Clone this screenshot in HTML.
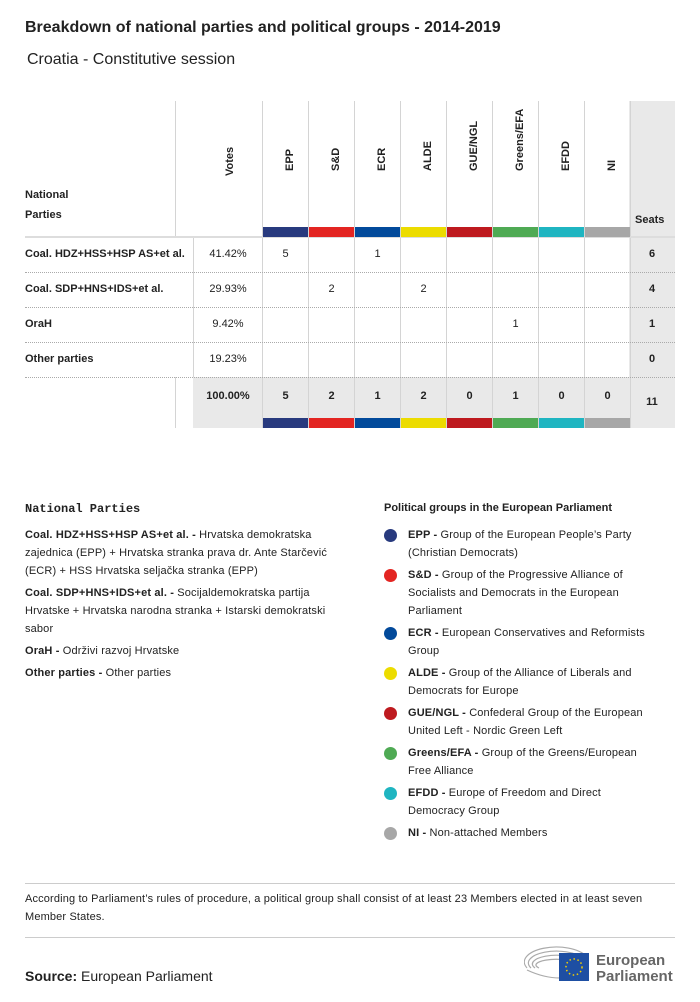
<!DOCTYPE html>
<html><head><meta charset="utf-8"><style>
*{margin:0;padding:0;box-sizing:border-box}
body{width:700px;height:1002px;background:#fff;font-family:"Liberation Sans",sans-serif;color:#222;position:relative;overflow:hidden}
.a{position:absolute;white-space:nowrap}
.vl{position:absolute;width:1px;background:#d4d4d4}
.hl{position:absolute;height:0;border-top:1px dotted #aaa}
.rot{position:absolute;transform:rotate(-90deg);transform-origin:left top;font-size:11px;font-weight:bold;white-space:nowrap}
.c{position:absolute;text-align:center;font-size:11px}
.leg{font-size:11px;line-height:18px;color:#222;letter-spacing:0.15px}
.leg b{font-weight:bold}
.dot{position:absolute;width:13px;height:13px;border-radius:50%}
</style></head><body>
<div class="a" style="left:25px;top:19px;font-size:16px;font-weight:bold">Breakdown of national parties and political groups - 2014-2019</div>
<div class="a" style="left:27px;top:51px;font-size:16px">Croatia - Constitutive session</div>
<div id="table"></div>
<div class="a" style="left:25px;top:502px;font-size:12px;font-weight:bold;font-family:'Liberation Mono',monospace">National Parties</div>
<div class="a leg" style="left:25px;top:526px;white-space:normal;width:322px">
<div><b>Coal. HDZ+HSS+HSP AS+et al. -</b> Hrvatska demokratska zajednica (EPP) + Hrvatska stranka prava dr. Ante Starčević (ECR) + HSS Hrvatska seljačka stranka (EPP)</div>
<div style="margin-top:4px"><b>Coal. SDP+HNS+IDS+et al. -</b> Socijaldemokratska partija Hrvatske + Hrvatska narodna stranka + Istarski demokratski sabor</div>
<div style="margin-top:4px"><b>OraH -</b> Održivi razvoj Hrvatske</div>
<div style="margin-top:4px"><b>Other parties -</b> Other parties</div>
</div>
<div class="a" style="left:384px;top:502px;font-size:11px;font-weight:bold">Political groups in the European Parliament</div>
<div id="glegend"></div>
<div class="a" style="left:25px;top:883px;width:650px;height:1px;background:#ccc"></div>
<div class="a leg" style="left:25px;top:890px;width:640px;white-space:normal">According to Parliament’s rules of procedure, a political group shall consist of at least 23 Members elected in at least seven Member States.</div>
<div class="a" style="left:25px;top:937px;width:650px;height:1px;background:#ccc"></div>
<div class="a" style="left:25px;top:968px;font-size:14px"><b>Source:</b> European Parliament</div>
<svg class="a" style="left:524px;top:944px" width="152" height="42">
<g fill="none" stroke="#aaa" stroke-width="1.2">
<path d="M3 24 A30 14 0 0 1 62 12"/><path d="M7 24 A26 11 0 0 1 58 14"/><path d="M11 24 A22 8 0 0 1 54 16"/><path d="M15 24 A18 5 0 0 1 50 18"/><path d="M3 26 Q20 34 36 34"/></g>
<rect x="35" y="9" width="30" height="28" fill="#1e4fa3"/>
<circle cx="50" cy="23" r="8" fill="none" stroke="#f5d000" stroke-width="1.5" stroke-dasharray="1.5 2.6"/>
<text x="72" y="21" font-size="15" fill="#666" font-family="Liberation Sans" font-weight="bold">European</text>
<text x="72" y="37" font-size="15" fill="#666" font-family="Liberation Sans" font-weight="bold">Parliament</text>
</svg>
<script>
const groups=["EPP","S&D","ECR","ALDE","GUE/NGL","Greens/EFA","EFDD","NI"];
const colors=["#283a7e","#e32522","#024a9b","#ecdc00","#be1a1f","#4faa54","#1fb5c1","#a7a7a7"];
const parties=["Coal. HDZ+HSS+HSP AS+et al.","Coal. SDP+HNS+IDS+et al.","OraH","Other parties"];
const votes=["41.42%","29.93%","9.42%","19.23%"];
const seatsByGroup=[[5,0,1,0,0,0,0,0],[0,2,0,2,0,0,0,0],[0,0,0,0,0,1,0,0],[0,0,0,0,0,0,0,0]];
const totalVotes="100.00%";
const groupDescs=["Group of the European People’s Party (Christian Democrats)","Group of the Progressive Alliance of Socialists and Democrats in the European Parliament","European Conservatives and Reformists Group","Group of the Alliance of Liberals and Democrats for Europe","Confederal Group of the European United Left - Nordic Green Left","Group of the Greens/European Free Alliance","Europe of Freedom and Direct Democracy Group","Non-attached Members"];

const T=document.getElementById('table');
function add(parent,html,style,name,cls){const d=document.createElement('div');d.className=cls||'a';d.style.cssText=style;d.innerHTML=html;


parent.appendChild(d);return d;}
const gx0=263,cw=46,tTop=101,hb=237,rh=35,seatX=629;
add(T,'','left:'+seatX+'px;top:'+tTop+'px;width:46px;height:327px;background:#e9e9e9','seats-column-bg');
add(T,'','left:193px;top:377px;width:436px;height:51px;background:#e9e9e9','total-row-bg');
add(T,'','left:175px;top:'+tTop+'px;height:136px','header-divider','vl');
add(T,'','left:175px;top:377px;height:51px','total-divider','vl');
add(T,'','left:193px;top:237px;height:140px','votes-divider','vl');
for(let i=0;i<=groups.length;i++){add(T,'','left:'+(gx0+i*cw-1)+'px;top:'+tTop+'px;height:327px','col-divider','vl');}
add(T,'','left:25px;top:236px;width:650px;height:2px;background:#ddd','header-bottom-line');
for(let r=1;r<=parties.length;r++)add(T,'','left:25px;top:'+(hb+r*rh)+'px;width:650px','row-divider','hl');
add(T,'National<br>Parties','left:25px;top:185px;font-size:11px;font-weight:bold;line-height:20px','party-header');
add(T,'Seats','left:635px;top:214px;font-size:11px;font-weight:bold','seats-header');
add(T,'Votes','left:224px;top:176px;','votes-header','rot');
groups.forEach((g,i)=>{
 const x=gx0+i*cw;
 add(T,g.replace('&','&amp;'),'left:'+(x+21)+'px;top:171px;','group-header','rot');
 add(T,'','left:'+x+'px;top:227px;width:'+(cw-1)+'px;height:10px;background:'+colors[i],'group-color-top');
 add(T,'','left:'+x+'px;top:418px;width:'+(cw-1)+'px;height:10px;background:'+colors[i],'group-color-bottom');
});
parties.forEach((p,r)=>{
 const y=hb+r*rh+11;
 add(T,p,'left:25px;top:'+y+'px;font-size:11px;font-weight:bold','party-name');
 add(T,votes[r],'left:193px;top:'+y+'px;width:70px','party-votes','c');
 let s=0;
 seatsByGroup[r].forEach((v,i)=>{s+=v;if(v)add(T,String(v),'left:'+(gx0+i*cw)+'px;top:'+y+'px;width:45px','party-group-seats','c');});
 add(T,String(s),'left:'+seatX+'px;top:'+y+'px;width:46px;font-weight:bold','party-total-seats','c');
});
const ty=390;let tot=0;
add(T,totalVotes,'left:193px;top:'+ty+'px;width:70px;font-weight:bold','total-votes','c');
groups.forEach((g,i)=>{let s=0;seatsByGroup.forEach(r=>s+=r[i]);tot+=s;
 add(T,String(s),'left:'+(gx0+i*cw)+'px;top:'+ty+'px;width:45px;font-weight:bold','group-total','c');});
add(T,String(tot),'left:'+seatX+'px;top:396px;width:46px;font-weight:bold','grand-total','c');
const G=document.getElementById('glegend');
const lys=[526,566,624,664,704,744,784,824];
groups.forEach((g,i)=>{
 add(G,'','left:384px;top:'+(lys[i]+3)+'px;background:'+colors[i],'legend-dot','dot');
 add(G,'<b>'+g.replace('&','&amp;')+' -</b> '+groupDescs[i],'left:408px;top:'+lys[i]+'px;width:250px;white-space:normal','legend-entry','a leg');
});
</script>
</body></html>
